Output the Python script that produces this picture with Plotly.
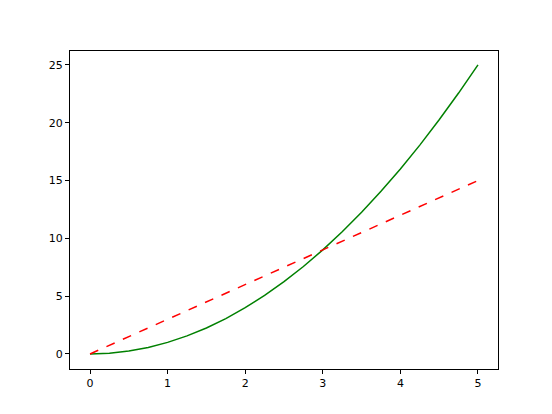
import plotly.graph_objects as go

# values
x_vals = [0, 0.25, 0.5, 0.75, 1, 1.25, 1.5, 1.75, 2, 2.25, 2.5, 2.75, 3,
          3.25, 3.5, 3.75, 4, 4.25, 4.5, 4.75, 5]
green_vals = [0, 0.0625, 0.25, 0.5625, 1, 1.5625, 2.25, 3.0625, 4, 5.0625, 6.25,
              7.5625, 9, 10.5625, 12.25, 14.0625, 16, 18.0625, 20.25, 22.5625, 25]
red_x = [0, 5]
red_vals = [0, 15]

fig = go.Figure()
fig.add_trace(go.Scatter(x=x_vals, y=green_vals, mode="lines",
                         line=dict(color="green", width=1.5)))
fig.add_trace(go.Scatter(x=red_x, y=red_vals, mode="lines",
                         line=dict(color="red", width=1.5, dash="dash")))

axis_style = dict(showline=True, linecolor="black", linewidth=1, mirror=True,
                  ticks="outside", ticklen=4, tickcolor="black",
                  showgrid=False, zeroline=False,
                  tickfont=dict(family="DejaVu Sans", size=11, color="black"))

# page sits ~7px in from the window edge, so margins are shifted to compensate
fig.update_layout(
    width=552, height=414,
    margin=dict(l=62, r=62, t=43, b=53),
    plot_bgcolor="white", paper_bgcolor="white",
    showlegend=False,
    xaxis=dict(range=[-0.258, 5.258], tickvals=[0, 1, 2, 3, 4, 5], **axis_style),
    yaxis=dict(range=[-1.3, 26.2], tickvals=[0, 5, 10, 15, 20, 25], **axis_style),
)

fig.write_html("out.html")
